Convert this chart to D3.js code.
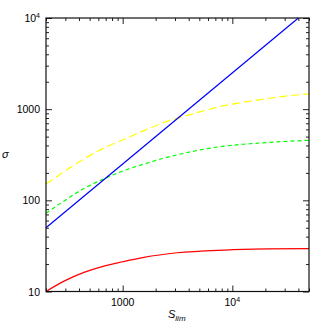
<!DOCTYPE html>
<html>
<head>
<meta charset="utf-8">
<script src="https://cdn.jsdelivr.net/npm/d3@7"></script>
<style>
  body { margin: 0; background: #fff; }
  text { font-family: "Liberation Sans", Arial, sans-serif; }
</style>
</head>
<body>
<svg id="chart" width="327" height="327"></svg>
<script>
// Data
const redS = [200, 292, 444, 675, 1000, 1563, 3150, 8570, 20600, 50000];
const redSigma = [10, 13.0, 16.2, 19.0, 21.2, 23.7, 26.6, 28.5, 29.3, 29.6];
const curveS = [200, 291, 444, 674, 1027, 1563, 2381, 5070, 7720, 13900, 28400, 50000];
const yellowSigma = [151, 206, 285, 375, 465, 582, 713, 934, 1069, 1213, 1375, 1472];
const greenSigma = [72, 98, 135, 172, 212, 250, 290, 357, 388, 416, 441, 456];
const blueS = [200, 40000];
const blueSigma = [50, 10000];

const xMajor = [1000, 10000];
const yMajor = [10, 100, 1000, 10000];
const labels = { 10: ["10"], 100: ["100"], 1000: ["1000"], 10000: ["10", "4"] };

const plotL = 46, plotR = 309, plotT = 18, plotB = 291.5;

const svg = d3.select("#chart");

const x = d3.scaleLog().domain([200, 50000]).range([plotL, plotR]);
const y = d3.scaleLog().domain([10, 10000]).range([plotB, plotT]);

const xMinor = x.ticks().filter(d => !xMajor.includes(d));
const yMinor = y.ticks().filter(d => !yMajor.includes(d));

// ticks on all four sides, pointing inward
function ticks(axisFn, scale, values, size, transform) {
    svg.append("g")
        .attr("transform", transform)
        .call(axisFn(scale).tickValues(values).tickSize(size).tickFormat(""))
        .call(g => g.select(".domain").remove())
        .selectAll("line").attr("stroke", "#222").attr("stroke-width", 1);
}
ticks(d3.axisBottom, x, xMinor, -3, `translate(0,${plotB})`);
ticks(d3.axisBottom, x, xMajor, -6, `translate(0,${plotB})`);
ticks(d3.axisTop, x, xMinor, -3, `translate(0,${plotT})`);
ticks(d3.axisTop, x, xMajor, -6, `translate(0,${plotT})`);
ticks(d3.axisLeft, y, yMinor, -3, `translate(${plotL},0)`);
ticks(d3.axisLeft, y, yMajor, -6, `translate(${plotL},0)`);
ticks(d3.axisRight, y, yMinor, -3, `translate(${plotR},0)`);
ticks(d3.axisRight, y, yMajor, -6, `translate(${plotR},0)`);

// lines
const line = d3.line().x(d => x(d[0])).y(d => y(d[1])).curve(d3.curveMonotoneX);

svg.append("path").datum(redS.map((s, i) => [s, redSigma[i]]))
    .attr("d", line).attr("fill", "none").attr("stroke", "#ff0000").attr("stroke-width", 1.2);
svg.append("path").datum(curveS.map((s, i) => [s, yellowSigma[i]]))
    .attr("d", line).attr("fill", "none").attr("stroke", "#ffff00").attr("stroke-width", 1.2)
    .attr("stroke-dasharray", "8,4");
svg.append("path").datum(curveS.map((s, i) => [s, greenSigma[i]]))
    .attr("d", line).attr("fill", "none").attr("stroke", "#00ff00").attr("stroke-width", 1.2)
    .attr("stroke-dasharray", "4,3");
svg.append("path").datum(blueS.map((s, i) => [s, blueSigma[i]]))
    .attr("d", d3.line().x(d => x(d[0])).y(d => y(d[1])))
    .attr("fill", "none").attr("stroke", "#0000ff").attr("stroke-width", 1.2);

// frame
svg.append("rect")
    .attr("x", plotL).attr("y", plotT)
    .attr("width", plotR - plotL).attr("height", plotB - plotT)
    .attr("fill", "none").attr("stroke", "#111").attr("stroke-width", 1.2);

// tick labels
function label(t, parts) {
    t.text(parts[0]);
    if (parts[1]) t.append("tspan").attr("dy", -4).attr("font-size", 7).text(parts[1]);
}
xMajor.forEach(v => {
    svg.append("text").attr("x", x(v)).attr("y", 306)
        .attr("text-anchor", "middle").attr("font-size", 10.5)
        .call(label, labels[v]);
});
yMajor.forEach(v => {
    svg.append("text").attr("x", 40).attr("y", y(v) + 4)
        .attr("text-anchor", "end").attr("font-size", 10.5)
        .call(label, labels[v]);
});

// axis titles
const xt = svg.append("text").attr("x", 168).attr("y", 318)
    .attr("font-size", 11).attr("font-style", "italic").text("S");
xt.append("tspan").attr("dy", 3).attr("font-size", 8).text("lim");

svg.append("text").attr("x", 2).attr("y", 158)
    .attr("font-size", 11).attr("font-style", "italic").text("σ");
</script>
</body>
</html>
